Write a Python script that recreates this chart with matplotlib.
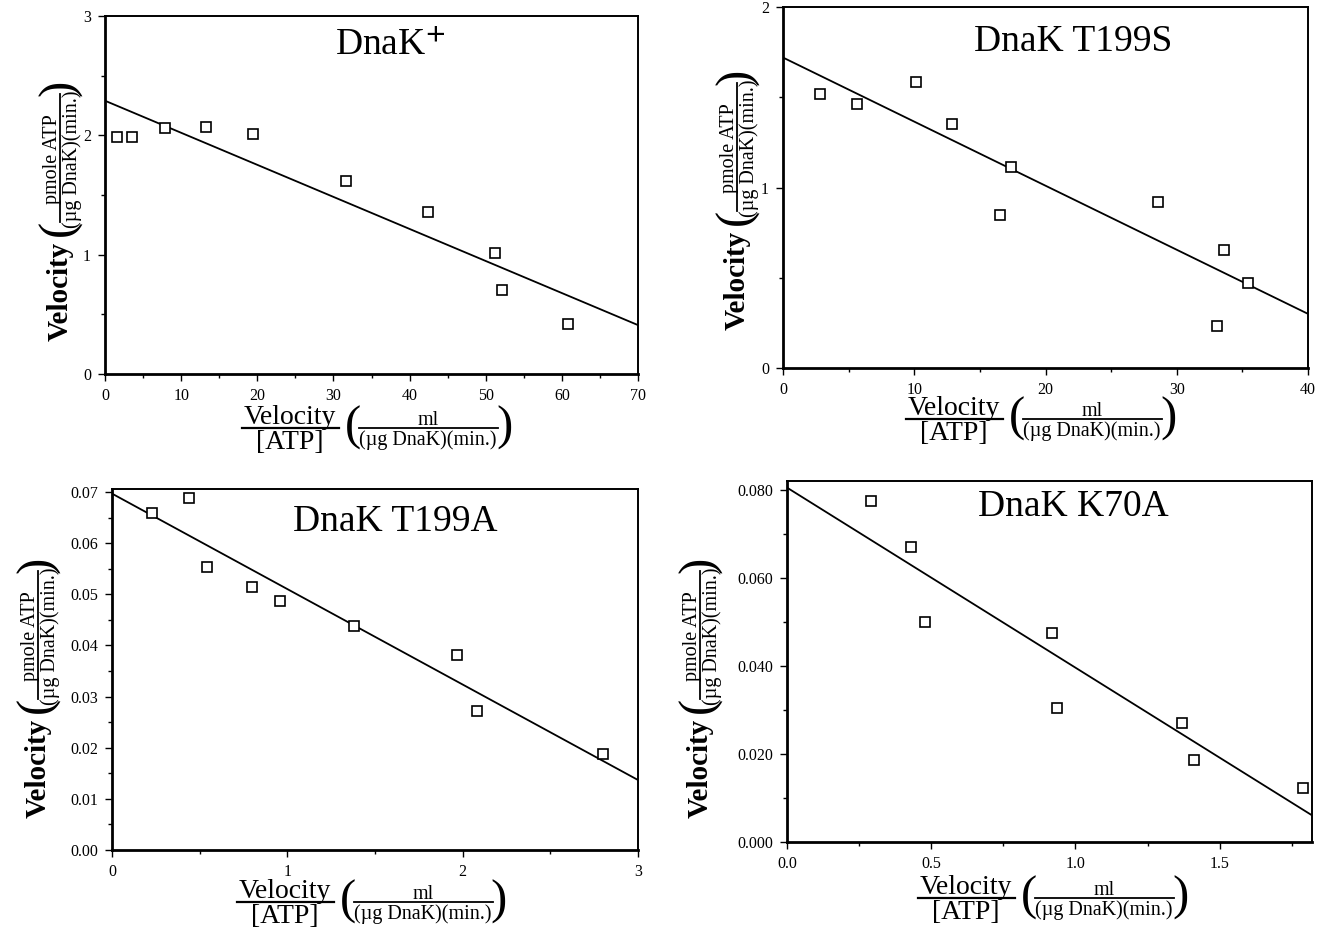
import matplotlib
matplotlib.use("Agg")
import matplotlib.pyplot as plt
import numpy as np
from matplotlib.lines import Line2D
from matplotlib.ticker import MultipleLocator, FormatStrFormatter

plt.rcParams['font.family'] = ['Liberation Serif', 'DejaVu Serif']
plt.rcParams['mathtext.fontset'] = 'stix'

# ---- data ----
titles = [r'DnaK$^{\mathbf{+}}$', 'DnaK T199S', 'DnaK T199A', 'DnaK K70A']

wt_x = [1.6, 3.6, 7.9, 13.2, 19.5, 31.7, 42.4, 51.2, 52.2, 60.8]
wt_y = [1.99, 1.99, 2.06, 2.07, 2.01, 1.62, 1.36, 1.01, 0.70, 0.42]
wt_fit = (2.29, -0.02686)

t199s_x = [2.8, 5.6, 10.1, 12.9, 17.4, 16.5, 28.6, 33.6, 35.4, 33.1]
t199s_y = [1.52, 1.465, 1.585, 1.35, 1.115, 0.85, 0.92, 0.655, 0.47, 0.235]
t199s_fit = (1.72, -0.0355)

t199a_x = [0.23, 0.44, 0.54, 0.80, 0.96, 1.38, 1.97, 2.08, 2.80]
t199a_y = [0.0659, 0.0688, 0.0553, 0.0514, 0.0487, 0.0439, 0.0382, 0.0271, 0.0188]
t199a_fit = (0.0697, -0.01867)

k70a_x = [0.29, 0.43, 0.48, 0.92, 0.935, 1.37, 1.41, 1.79]
k70a_y = [0.0774, 0.0670, 0.0500, 0.0475, 0.0304, 0.0270, 0.0186, 0.0123]
k70a_fit = (0.0805, -0.0409)

xlims = [(0, 70), (0, 40), (0, 3), (0, 1.82)]
ylims = [(0, 3), (0, 2), (0, 0.0706), (0, 0.082)]
xmajor = [10, 10, 1, 0.5]
xminor = [5, 5, 0.5, 0.25]
ymajor = [1, 1, 0.01, 0.02]
yminor = [0.5, 0.5, 0.005, 0.01]
xfmt = ['%d', '%d', '%d', '%.1f']
yfmt = ['%d', '%d', '%.2f', '%.3f']

x_main_num, x_main_den = 'Velocity', '[ATP]'
x_unit_num, x_unit_den = 'ml', '(µg DnaK)(min.)'
y_main = 'Velocity'
y_unit_num, y_unit_den = 'pmole ATP', '(µg DnaK)(min.)'

series = [(wt_x, wt_y, wt_fit), (t199s_x, t199s_y, t199s_fit),
          (t199a_x, t199a_y, t199a_fit), (k70a_x, k70a_y, k70a_fit)]

# layout (pixels, top-left origin)
W, H = 1329, 932
boxes_px = [(105, 638, 16, 374), (783, 1308, 7, 368), (112, 638, 489, 850), (787, 1312, 481, 842)]
title_pos = [(0.535, 0.92), (0.552, 0.903), (0.538, 0.909), (0.545, 0.928)]
xlab_anchor = [(242, 428), (906, 419), (237, 902), (918, 898)]   # (start x, bar y)
ylab_anchor = [(341, 60), (330, 737), (818, 38), (818, 700)]     # (start y, centre x)

fig = plt.figure(figsize=(W / 100, H / 100), dpi=100)


def to_fig(px, py):
    return px / W, 1 - py / H


def make_mapper(a0, b0, vertical):
    if vertical:
        return lambda u, v: to_fig(b0 + v, a0 - u)
    return lambda u, v: to_fig(a0 + u, b0 + v)


def put(mp, u, v, s, size, ha, va, vertical, weight='normal'):
    x, y = mp(u, v)
    fig.text(x, y, s, fontsize=size, ha=ha, va=va, fontweight=weight,
             rotation=90 if vertical else 0, rotation_mode='anchor')


def bar(mp, u0, u1, v, lw=1.6):
    x0, y0 = mp(u0, v)
    x1, y1 = mp(u1, v)
    fig.add_artist(Line2D([x0, x1], [y0, y1], transform=fig.transFigure,
                          color='black', linewidth=lw))


def units(mp, vertical, num, den, c, p0, p1):
    put(mp, p0, 0, '(', 35, 'center', 'center', vertical)
    put(mp, c, -3, num, 14.5, 'center', 'baseline', vertical)
    bar(mp, p0 + 6, p1 - 6, 0, lw=1.3)
    put(mp, c, 2, den, 14.5, 'center', 'top', vertical)
    put(mp, p1, 0, ')', 35, 'center', 'center', vertical)


for i, (l, r, t, b) in enumerate(boxes_px):
    ax = fig.add_axes([l / W, (H - b) / H, (r - l) / W, (b - t) / H])
    xs, ys, (b0, m) = series[i]
    ax.plot(xs, ys, linestyle='none', marker='s', markersize=6.5,
            markerfacecolor='white', markeredgecolor='black', markeredgewidth=1.2, zorder=3)
    x0, x1 = xlims[i]
    fx = np.array([x0, x1])
    ax.plot(fx, b0 + m * fx, color='black', linewidth=1.3, clip_on=True)
    ax.set_xlim(*xlims[i])
    ax.set_ylim(*ylims[i])
    ax.xaxis.set_major_locator(MultipleLocator(xmajor[i]))
    ax.xaxis.set_minor_locator(MultipleLocator(xminor[i]))
    ax.yaxis.set_major_locator(MultipleLocator(ymajor[i]))
    ax.yaxis.set_minor_locator(MultipleLocator(yminor[i]))
    ax.xaxis.set_major_formatter(FormatStrFormatter(xfmt[i]))
    ax.yaxis.set_major_formatter(FormatStrFormatter(yfmt[i]))
    ax.tick_params(which='major', direction='out', length=5, width=1.0, labelsize=11.5)
    ax.tick_params(which='minor', direction='out', length=3, width=1.0)
    ax.tick_params(axis='x', which='major', pad=5)
    ax.tick_params(axis='y', which='major', pad=5)
    for s in ['left', 'bottom']:
        ax.spines[s].set_linewidth(2.0)
    for s in ['top', 'right']:
        ax.spines[s].set_linewidth(1.4)
    ax.text(title_pos[i][0], title_pos[i][1], titles[i], transform=ax.transAxes,
            ha='center', va='center', fontsize=27)

    # x label: Velocity/[ATP] (ml / (µg DnaK)(min.))
    mx = make_mapper(xlab_anchor[i][0], xlab_anchor[i][1], False)
    put(mx, 48, -4, x_main_num, 20, 'center', 'baseline', False)
    bar(mx, 0, 97, 0)
    put(mx, 48, 2, x_main_den, 20, 'center', 'top', False)
    units(mx, False, x_unit_num, x_unit_den, 186, 111, 262)

    # y label: Velocity (pmole ATP / (µg DnaK)(min.))
    my = make_mapper(ylab_anchor[i][0], ylab_anchor[i][1], True)
    put(my, 0, 0, y_main, 21, 'left', 'center', True, weight='bold')
    units(my, True, y_unit_num, y_unit_den, 182, 113, 253)

fig.savefig('out.png', dpi=100)
